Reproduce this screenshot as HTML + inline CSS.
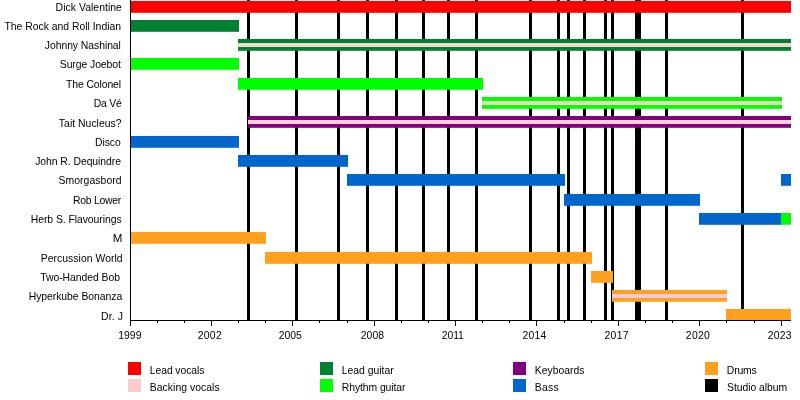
<!DOCTYPE html>
<html><head><meta charset="utf-8"><style>
html,body{margin:0;padding:0;background:#fff;width:800px;height:400px;overflow:hidden}
svg{display:block;will-change:transform}
text{font-family:"Liberation Sans",sans-serif;font-size:10.4px;fill:#000}
</style></head><body>
<svg width="800" height="400" viewBox="0 0 800 400">
<rect width="800" height="400" fill="#fff"/>

<rect x="247" y="0" width="3" height="320" fill="#000"/>
<rect x="295" y="0" width="3" height="320" fill="#000"/>
<rect x="337" y="0" width="3" height="320" fill="#000"/>
<rect x="366" y="0" width="3" height="320" fill="#000"/>
<rect x="395" y="0" width="3" height="320" fill="#000"/>
<rect x="422" y="0" width="3" height="320" fill="#000"/>
<rect x="447" y="0" width="3" height="320" fill="#000"/>
<rect x="475" y="0" width="3" height="320" fill="#000"/>
<rect x="529" y="0" width="3" height="320" fill="#000"/>
<rect x="557" y="0" width="3" height="320" fill="#000"/>
<rect x="567" y="0" width="3" height="320" fill="#000"/>
<rect x="583" y="0" width="3" height="320" fill="#000"/>
<rect x="604" y="0" width="3" height="320" fill="#000"/>
<rect x="611" y="0" width="3" height="320" fill="#000"/>
<rect x="635" y="0" width="6" height="320" fill="#000"/>
<rect x="665" y="0" width="3" height="320" fill="#000"/>
<rect x="741" y="0" width="3" height="320" fill="#000"/>
<rect x="130.00" y="1.00" width="661.00" height="11.80" fill="#ff0000"/>
<rect x="130.00" y="20.00" width="109.00" height="11.80" fill="#008033"/>
<rect x="238.00" y="39.00" width="553.00" height="11.80" fill="#008033"/>
<rect x="238.00" y="43.00" width="553.00" height="4.00" fill="#f4d8c8"/>
<rect x="130.00" y="58.00" width="109.00" height="11.80" fill="#00ff00"/>
<rect x="238.00" y="78.00" width="245.00" height="11.80" fill="#00ff00"/>
<rect x="482.00" y="97.00" width="300.00" height="11.80" fill="#00ff00"/>
<rect x="482.00" y="101.00" width="300.00" height="4.00" fill="#ecd8c0"/>
<rect x="248.00" y="116.00" width="543.00" height="11.80" fill="#800080"/>
<rect x="248.00" y="120.00" width="543.00" height="4.00" fill="#ffd0d0"/>
<rect x="130.00" y="136.00" width="109.00" height="11.80" fill="#0066cc"/>
<rect x="238.00" y="155.00" width="110.00" height="11.80" fill="#0066cc"/>
<rect x="347.00" y="174.00" width="218.00" height="11.80" fill="#0066cc"/>
<rect x="781.00" y="174.00" width="10.00" height="11.80" fill="#0066cc"/>
<rect x="564.00" y="194.00" width="136.00" height="11.80" fill="#0066cc"/>
<rect x="699.00" y="213.00" width="83.00" height="11.80" fill="#0066cc"/>
<rect x="781.00" y="213.00" width="10.00" height="11.80" fill="#00ff00"/>
<rect x="130.00" y="232.00" width="136.00" height="11.80" fill="#ffa01f"/>
<rect x="265.00" y="252.00" width="327.00" height="11.80" fill="#ffa01f"/>
<rect x="591.00" y="271.00" width="22.00" height="11.80" fill="#ffa01f"/>
<rect x="612.00" y="290.00" width="115.00" height="11.80" fill="#ffa01f"/>
<rect x="612.00" y="294.00" width="115.00" height="4.00" fill="#f6cade"/>
<rect x="726.00" y="309.00" width="65.00" height="11.80" fill="#ffa01f"/>
<rect x="130" y="0" width="1" height="326" fill="#000"/>
<rect x="130" y="320" width="661" height="1" fill="#000"/>
<rect x="130" y="320" width="1" height="6" fill="#000"/>
<rect x="157" y="320" width="1" height="3" fill="#000"/>
<rect x="184" y="320" width="1" height="3" fill="#000"/>
<rect x="211" y="320" width="1" height="6" fill="#000"/>
<rect x="238" y="320" width="1" height="3" fill="#000"/>
<rect x="265" y="320" width="1" height="3" fill="#000"/>
<rect x="292" y="320" width="1" height="6" fill="#000"/>
<rect x="319" y="320" width="1" height="3" fill="#000"/>
<rect x="347" y="320" width="1" height="3" fill="#000"/>
<rect x="374" y="320" width="1" height="6" fill="#000"/>
<rect x="401" y="320" width="1" height="3" fill="#000"/>
<rect x="428" y="320" width="1" height="3" fill="#000"/>
<rect x="455" y="320" width="1" height="6" fill="#000"/>
<rect x="482" y="320" width="1" height="3" fill="#000"/>
<rect x="509" y="320" width="1" height="3" fill="#000"/>
<rect x="536" y="320" width="1" height="6" fill="#000"/>
<rect x="564" y="320" width="1" height="3" fill="#000"/>
<rect x="591" y="320" width="1" height="3" fill="#000"/>
<rect x="618" y="320" width="1" height="6" fill="#000"/>
<rect x="645" y="320" width="1" height="3" fill="#000"/>
<rect x="672" y="320" width="1" height="3" fill="#000"/>
<rect x="699" y="320" width="1" height="6" fill="#000"/>
<rect x="726" y="320" width="1" height="3" fill="#000"/>
<rect x="754" y="320" width="1" height="3" fill="#000"/>
<rect x="781" y="320" width="1" height="6" fill="#000"/>
<text x="55.62" y="11.00" textLength="66.24" lengthAdjust="spacing">Dick Valentine</text>
<text x="4.38" y="30.00" textLength="116.66" lengthAdjust="spacing">The Rock and Roll Indian</text>
<text x="44.82" y="49.00" textLength="76.09" lengthAdjust="spacing">Johnny Nashinal</text>
<text x="59.79" y="68.00" textLength="61.06" lengthAdjust="spacing">Surge Joebot</text>
<text x="65.96" y="88.00" textLength="55.13" lengthAdjust="spacing">The Colonel</text>
<text x="93.83" y="107.00" textLength="27.91" lengthAdjust="spacing">Da Vé</text>
<text x="58.85" y="127.00" textLength="62.73" lengthAdjust="spacing">Tait Nucleus?</text>
<text x="95.12" y="146.00" textLength="25.57" lengthAdjust="spacing">Disco</text>
<text x="35.15" y="165.00" textLength="85.85" lengthAdjust="spacing">John R. Dequindre</text>
<text x="58.47" y="184.00" textLength="63.09" lengthAdjust="spacing">Smorgasbord</text>
<text x="72.92" y="204.00" textLength="48.40" lengthAdjust="spacing">Rob Lower</text>
<text x="30.76" y="223.00" textLength="90.83" lengthAdjust="spacing">Herb S. Flavourings</text>
<text x="112.83" y="242.00" textLength="9.64" lengthAdjust="spacingAndGlyphs">M</text>
<text x="40.76" y="262.00" textLength="81.85" lengthAdjust="spacing">Percussion World</text>
<text x="40.22" y="281.00" textLength="79.72" lengthAdjust="spacing">Two-Handed Bob</text>
<text x="28.69" y="300.00" textLength="93.47" lengthAdjust="spacing">Hyperkube Bonanza</text>
<text x="101.12" y="320.00" textLength="21.83" lengthAdjust="spacing">Dr. J</text>
<text x="118.21" y="339.00" textLength="23.21" lengthAdjust="spacing">1999</text>
<text x="197.75" y="339.00" textLength="23.91" lengthAdjust="spacing">2002</text>
<text x="278.75" y="339.00" textLength="23.10" lengthAdjust="spacing">2005</text>
<text x="360.79" y="339.00" textLength="23.21" lengthAdjust="spacing">2008</text>
<text x="441.75" y="339.00" textLength="22.13" lengthAdjust="spacing">2011</text>
<text x="522.46" y="339.00" textLength="23.87" lengthAdjust="spacing">2014</text>
<text x="604.46" y="339.00" textLength="24.06" lengthAdjust="spacing">2017</text>
<text x="685.79" y="339.00" textLength="24.06" lengthAdjust="spacing">2020</text>
<text x="767.87" y="339.00" textLength="23.54" lengthAdjust="spacing">2023</text>
<text x="149.83" y="374.00" textLength="54.54" lengthAdjust="spacing">Lead vocals</text>
<text x="149.83" y="391.00" textLength="69.79" lengthAdjust="spacing">Backing vocals</text>
<text x="341.83" y="374.00" textLength="51.77" lengthAdjust="spacing">Lead guitar</text>
<text x="341.83" y="391.00" textLength="63.64" lengthAdjust="spacing">Rhythm guitar</text>
<text x="534.76" y="374.00" textLength="49.61" lengthAdjust="spacing">Keyboards</text>
<text x="534.76" y="391.00" textLength="23.87" lengthAdjust="spacing">Bass</text>
<text x="726.83" y="374.00" textLength="29.96" lengthAdjust="spacing">Drums</text>
<text x="726.98" y="391.00" textLength="60.22" lengthAdjust="spacing">Studio album</text>
<rect x="128" y="362" width="13" height="13" fill="#ff0000"/>
<rect x="128" y="379" width="13" height="13" fill="#ffcccc"/>
<rect x="320" y="362" width="13" height="13" fill="#008033"/>
<rect x="320" y="379" width="13" height="13" fill="#00ff00"/>
<rect x="513" y="362" width="13" height="13" fill="#800080"/>
<rect x="513" y="379" width="13" height="13" fill="#0066cc"/>
<rect x="705" y="362" width="13" height="13" fill="#ffa01f"/>
<rect x="705" y="379" width="13" height="13" fill="#000000"/>
</svg>
</body></html>
